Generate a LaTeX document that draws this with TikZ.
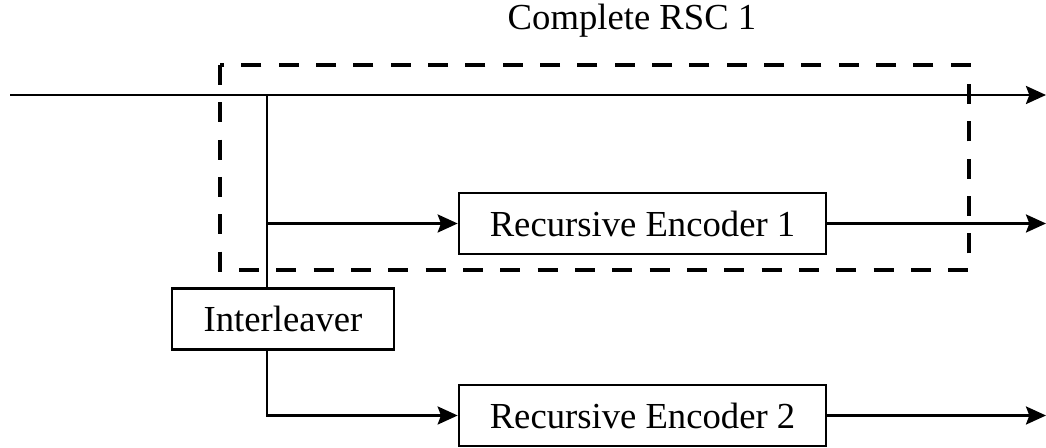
\documentclass[tikz,border=0pt]{standalone}
\usepackage{fontspec}
\setmainfont{Liberation Serif}
\usetikzlibrary{arrows.meta, positioning}

\begin{document}
\begin{tikzpicture}[x=0.75pt, y=-0.75pt,
    line width=2pt,
    every node/.style={font=\fontsize{27.5}{32}\selectfont},
    block/.style={draw, rectangle, inner sep=0pt, minimum height=61*0.75pt},
    arr/.style={-{Stealth[length=15pt, width=13.5pt, inset=2.5pt]}},
    rscbox/.style={draw, line width=3pt, dash pattern=on 15pt off 13pt}]
    \useasboundingbox (0,0) rectangle (1046,448);

    % Dashed frame of the first RSC
    \draw[rscbox] (220,65) rectangle (969,270);
    \node (title) at (632,21) {Complete RSC 1};

    % Blocks
    \node[block, minimum width=367*0.75pt] (enc1) at (642.5,223.5) {Recursive Encoder 1};
    \node[block, minimum width=222*0.75pt] (intl) at (283,319) {Interleaver};
    \node[block, minimum width=367*0.75pt] (enc2) at (642.5,415.5) {Recursive Encoder 2};

    % Input and split points
    \coordinate (in) at (10,95);
    \coordinate (tap) at (267,95);
    \coordinate (out1) at (1046,95);
    \coordinate (out2) at (1046,223.5);
    \coordinate (out3) at (1046,415.5);

    % Connections
    \draw[arr] (in) -- (out1);
    \draw (tap) -- (tap |- intl.north);
    \draw[arr] (tap |- enc1) -- (enc1.west);
    \draw[arr] (enc1.east) -- (out2);
    \draw[arr] (tap |- intl.south) |- (enc2.west);
    \draw[arr] (enc2.east) -- (out3);
\end{tikzpicture}
\end{document}
